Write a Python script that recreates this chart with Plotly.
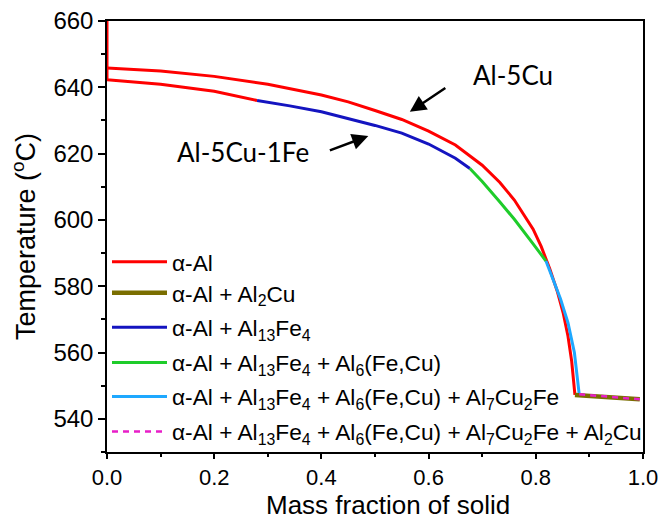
import plotly.graph_objects as go

# ---- data ----
# Al-5Cu
cu_alpha_fs = [0, 0.1, 0.2, 0.3, 0.4, 0.45, 0.5, 0.55, 0.6, 0.65, 0.7, 0.733, 0.76, 0.795, 0.81, 0.826, 0.84, 0.851, 0.86, 0.867, 0.873]
cu_alpha_T = [645.8, 644.9, 643.3, 640.9, 637.7, 635.6, 633.0, 630.3, 626.8, 622.6, 616.5, 611.3, 606.0, 597.2, 592.0, 585.3, 578.5, 572.0, 565.0, 557.3, 547.2]
cu_al2cu_fs = [0.873, 0.93, 0.994]
cu_al2cu_T = [547.2, 546.6, 545.9]

# Al-5Cu-1Fe
fe_alpha_fs = [0, 0, 0.1, 0.2, 0.28]
fe_alpha_T = [660, 642.3, 640.9, 638.8, 636.0]
fe_al13_fs = [0.28, 0.341, 0.4, 0.45, 0.5, 0.55, 0.6, 0.65, 0.677]
fe_al13_T = [636.0, 634.4, 632.6, 630.6, 628.5, 626.2, 622.9, 618.6, 615.5]
fe_al6_fs = [0.677, 0.7, 0.733, 0.76, 0.795, 0.819]
fe_al6_T = [615.5, 611.6, 605.4, 600.2, 592.8, 587.6]
fe_al7_fs = [0.819, 0.832, 0.846, 0.86, 0.872, 0.881]
fe_al7_T = [587.6, 582.2, 576.2, 569.0, 560.0, 547.4]
fe_eut_fs = [0.881, 0.94, 0.994]
fe_eut_T = [547.4, 546.6, 545.9]

legend_names = [
    "α-Al",
    "α-Al + Al<sub>2</sub>Cu",
    "α-Al + Al<sub>13</sub>Fe<sub>4</sub>",
    "α-Al + Al<sub>13</sub>Fe<sub>4</sub> + Al<sub>6</sub>(Fe,Cu)",
    "α-Al + Al<sub>13</sub>Fe<sub>4</sub> + Al<sub>6</sub>(Fe,Cu) + Al<sub>7</sub>Cu<sub>2</sub>Fe",
    "α-Al + Al<sub>13</sub>Fe<sub>4</sub> + Al<sub>6</sub>(Fe,Cu) + Al<sub>7</sub>Cu<sub>2</sub>Fe + Al<sub>2</sub>Cu",
]

RED = "#FF0000"
OLIVE = "#7A6E00"
BLUE = "#1414C0"
GREEN = "#1ECC2A"
LBLUE = "#1EA8FF"
MAGENTA = "#E81EC8"

fig = go.Figure()
fig.add_trace(go.Scatter(x=cu_alpha_fs, y=cu_alpha_T, mode="lines", line=dict(color=RED, width=3),
                         name=legend_names[0], legend="legend"))
fig.add_trace(go.Scatter(x=fe_alpha_fs, y=fe_alpha_T, mode="lines", line=dict(color=RED, width=3),
                         name=legend_names[0], showlegend=False))
fig.add_trace(go.Scatter(x=fe_al13_fs, y=fe_al13_T, mode="lines", line=dict(color=BLUE, width=3),
                         name=legend_names[2], legend="legend3"))
fig.add_trace(go.Scatter(x=fe_al6_fs, y=fe_al6_T, mode="lines", line=dict(color=GREEN, width=3),
                         name=legend_names[3], legend="legend4"))
fig.add_trace(go.Scatter(x=fe_al7_fs, y=fe_al7_T, mode="lines", line=dict(color=LBLUE, width=3),
                         name=legend_names[4], legend="legend5"))
fig.add_trace(go.Scatter(x=cu_al2cu_fs, y=cu_al2cu_T, mode="lines", line=dict(color=OLIVE, width=4.5),
                         name=legend_names[1], legend="legend2"))
fig.add_trace(go.Scatter(x=fe_eut_fs, y=fe_eut_T, mode="lines", line=dict(color=MAGENTA, width=2.5, dash="6px,5px"),
                         name=legend_names[5], legend="legend6"))

# labels and arrows
fig.add_annotation(x=0.757, y=643.6, text="Al-5Cu", showarrow=False,
                   font=dict(family="Lato", size=26, color="black"))
fig.add_annotation(x=0.254, y=620.4, text="Al-5Cu-1Fe", showarrow=False,
                   font=dict(family="Lato", size=26, color="black"))
fig.add_annotation(x=0.565, y=632.6, ax=0.634, ay=640.1, axref="x", ayref="y", xref="x", yref="y",
                   text="", showarrow=True, arrowhead=2, arrowsize=1.3, arrowwidth=2.5, arrowcolor="black")
fig.add_annotation(x=0.4875, y=625.3, ax=0.413, ay=620.8, axref="x", ayref="y", xref="x", yref="y",
                   text="", showarrow=True, arrowhead=2, arrowsize=1.3, arrowwidth=2.5, arrowcolor="black")

# x-axis title (placed as in the reference, slightly right of centre)
fig.add_annotation(xref="paper", yref="paper", x=0.524, y=-0.161, xanchor="center", yanchor="bottom",
                   text="Mass fraction of solid", showarrow=False, borderpad=0,
                   font=dict(size=26, color="black"))

legend_y = [0.441, 0.369, 0.289, 0.207, 0.128, 0.047]
leg_common = dict(x=0.0, xanchor="left", yanchor="middle", bgcolor="rgba(0,0,0,0)",
                  font=dict(size=22.7), itemwidth=55, borderwidth=0)
layout_legends = {}
for i, yv in enumerate(legend_y):
    key = "legend" if i == 0 else f"legend{i + 1}"
    layout_legends[key] = dict(y=yv, **leg_common)

fig.update_layout(
    width=670, height=521,
    margin=dict(l=107, r=27, t=21, b=69),
    paper_bgcolor="white", plot_bgcolor="white",
    font=dict(family="Liberation Sans", size=20, color="black"),
    **layout_legends,
)
fig.update_xaxes(range=[0, 1.0], tick0=0, dtick=0.2, tickformat=".1f", showgrid=False, zeroline=False,
                 showline=True, linecolor="black", linewidth=1.5, mirror=True, automargin=False,
                 ticks="outside", ticklen=5, tickwidth=1.5, tickcolor="black",
                 minor=dict(dtick=0.1, ticks="outside", ticklen=3, tickwidth=1.5, tickcolor="black"),
                 tickfont=dict(size=22))
fig.update_yaxes(range=[530, 660], tick0=540, dtick=20, showgrid=False, zeroline=False,
                 showline=True, linecolor="black", linewidth=1.5, mirror=True, automargin=False,
                 ticks="outside", ticklen=7, tickwidth=1.5, tickcolor="black",
                 minor=dict(dtick=10, ticks="outside", ticklen=4, tickwidth=1.5, tickcolor="black"),
                 title=dict(text="Temperature (<sup>o</sup>C)", font=dict(size=27), standoff=10),
                 tickfont=dict(size=24))

fig.write_html("out.html")
